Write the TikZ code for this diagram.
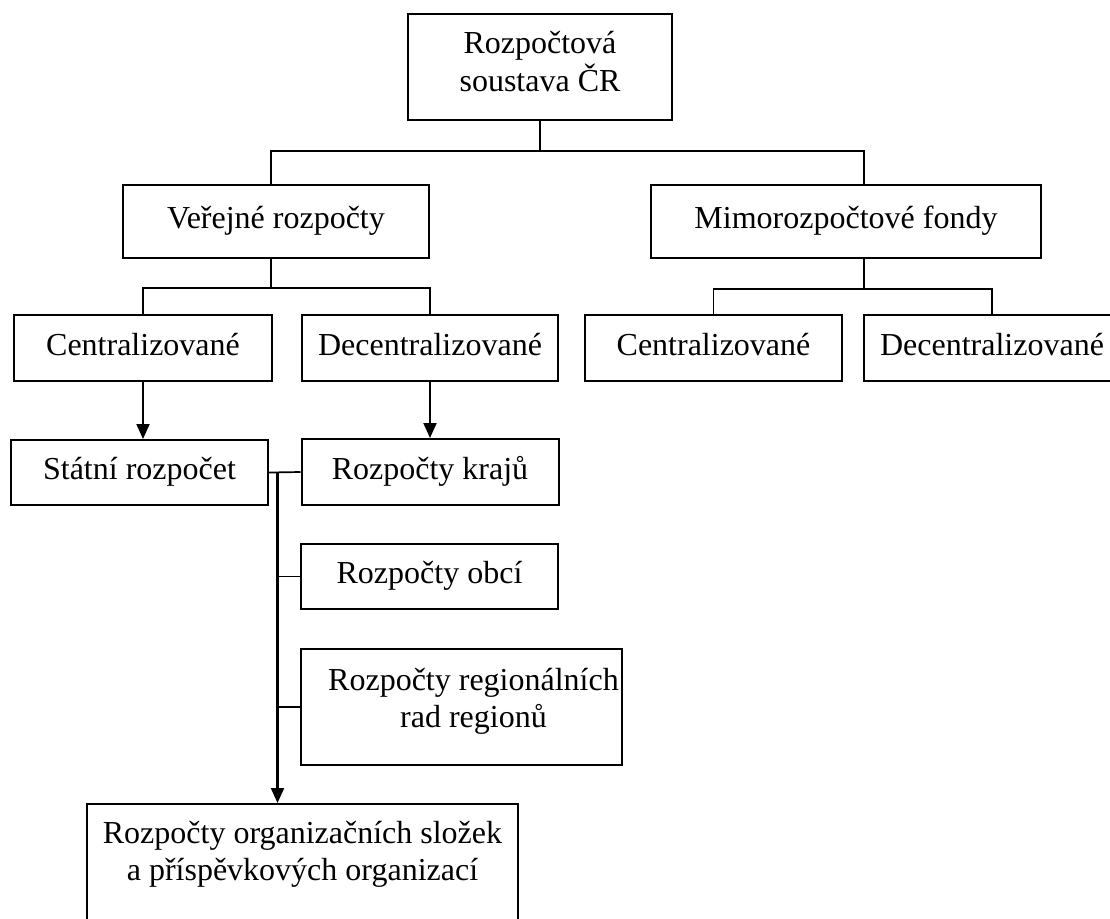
\documentclass[tikz,border=0pt]{standalone}
\usepackage{fontspec}
\setmainfont{Liberation Serif}
\usetikzlibrary{arrows.meta}
% two centred lines whose baseline is that of the first line
\newcommand{\twolines}[2]{\begin{tabular}[t]{@{}c@{}}#1\\#2\end{tabular}}
\begin{document}
\begin{tikzpicture}[x=1pt,y=-1pt,
  every node/.style={font=\fontsize{32}{37}\selectfont, inner sep=0pt},
  box/.style={draw, rectangle, line width=2pt, text height=21pt, text depth=7pt},
  txt/.style={anchor=base},
  link/.style={line width=1.7pt},
  down/.style={line width=2.1pt, -{Triangle[length=15pt,width=13pt]}},
]
\useasboundingbox (0,0) rectangle (1110,918);
\clip (0,0) rectangle (1110,918);

% boxes
\node[box, minimum width=264pt, minimum height=106pt] (top) at (540,67) {};
\node[txt] (toptext) at (540,53) {\twolines{Rozpočtová}{soustava ČR}};

\node[box, minimum width=306pt, minimum height=73pt] (verejne) at (276,221.5) {Veřejné rozpočty};
\node[box, minimum width=390pt, minimum height=73pt] (mimo) at (846,221.5) {Mimorozpočtové fondy};

\node[box, minimum width=258pt, minimum height=66pt] (centrA) at (143,348) {Centralizované};
\node[box, minimum width=256pt, minimum height=66pt] (decentrA) at (430,348) {Decentralizované};
\node[box, minimum width=257pt, minimum height=66pt] (centrB) at (713.5,348) {Centralizované};
\node[box, minimum width=256pt, minimum height=66pt] (decentrB) at (992,348) {Decentralizované};

\node[box, minimum width=257pt, minimum height=65pt] (statni) at (139.5,472.5) {Státní rozpočet};
\node[box, minimum width=257pt, minimum height=66pt] (kraje) at (430,472) {Rozpočty krajů};
\node[box, minimum width=257pt, minimum height=65pt] (obce) at (429.5,576.5) {Rozpočty obcí};

\node[box, minimum width=321pt, minimum height=116pt] (rrr) at (461.5,707) {};
\node[txt] (rrrtext) at (473.5,690) {\twolines{Rozpočty regionálních}{rad regionů}};

\node[box, minimum width=431pt, minimum height=136pt] (org) at (302.5,872) {};
\node[txt] (orgtext) at (302.5,843) {\twolines{Rozpočty organizačních složek}{a příspěvkových organizací}};

% tree connectors
\draw[link] (top.south) -- ++(0,30) coordinate (j1);
\draw[link] ([xshift=-5pt]verejne.north) |- (j1) -| ([xshift=18pt]mimo.north);
\draw[link] ([xshift=-5pt]verejne.south) -- ++(0,29) coordinate (j2);
\draw[link] (centrA.north) |- (j2) -| (decentrA.north);
\draw[link] ([xshift=18pt]mimo.south) -- ++(0,30) coordinate (j3);
\draw[link] (centrB.north) |- (j3) -| (decentrB.north);

% arrows and the spine of lower budgets
\draw[down] (centrA.south) -- (centrA.south |- statni.north);
\draw[down] (decentrA.south) -- (kraje.north);
\draw[link] (statni.east) -- (kraje.west);
\path (statni.east) -- (kraje.west) coordinate[pos=0.27] (spine);
\draw[down] (spine) -- (spine |- org.north);
\draw[link] (spine |- obce.west) -- (obce.west);
\draw[link] (spine |- rrr.west) -- (rrr.west);
\end{tikzpicture}
\end{document}
